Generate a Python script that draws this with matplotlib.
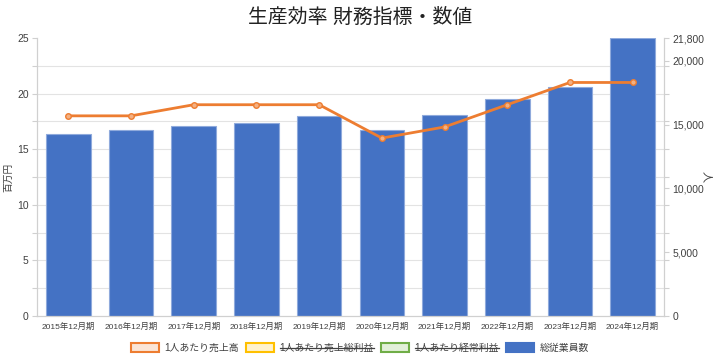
import numpy as np
import matplotlib
matplotlib.use("Agg")
import matplotlib.pyplot as plt
from matplotlib.patches import Patch
from matplotlib.lines import Line2D
from matplotlib.ticker import FuncFormatter

plt.rcParams['font.family'] = ['Liberation Sans', 'Noto Sans CJK JP', 'DejaVu Sans']

categories = ['2015年12月期', '2016年12月期', '2017年12月期', '2018年12月期', '2019年12月期',
              '2020年12月期', '2021年12月期', '2022年12月期', '2023年12月期', '2024年12月期']
sales_per_person = [18.0, 18.0, 19.0, 19.0, 19.0, 16.0, 17.0, 19.0, 21.0, 21.0]  # 百万円
employees = [14270, 14560, 14920, 15110, 15680, 14590, 15740, 16980, 17940, 21800]  # 人

left_max = 25
right_max = 21800
left_ticks = [0, 5, 10, 15, 20, 25]
left_minor = list(np.arange(0, 25.01, 2.5))
right_ticks = [0, 5000, 10000, 15000, 20000, 21800]

title = '生産効率 財務指標・数値'
legend_labels = ['1人あたり売上高', '1人あたり売上総利益', '1人あたり経常利益', '総従業員数']

txt = '#404040'
grid_c = '#E3E3E3'

fig = plt.figure(figsize=(7.2, 3.6), dpi=100)
ax = fig.add_axes([37/720, 1-316/360, (664-37)/720, (316-38)/360])
ax2 = ax.twinx()

x = np.arange(len(categories))
ax2.bar(x, employees, width=0.71, color='#4472C4', edgecolor='#8FAADC', linewidth=0.8, zorder=2)
ax2.set_ylim(0, right_max)
ax.set_ylim(0, left_max)
ax.set_xlim(-0.5, len(categories) - 0.5)

# grid on the lower (bar) axes at left-scale positions
ax2.set_yticks([v * right_max / left_max for v in left_minor], minor=True)
ax2.yaxis.grid(True, which='minor', color=grid_c, linewidth=0.8)
ax2.set_xticks(np.arange(-0.5, len(categories)), minor=True)
ax2.xaxis.grid(True, which='minor', color=grid_c, linewidth=0.8)
ax2.set_axisbelow(True)

ax.set_zorder(ax2.get_zorder() + 1)
ax.patch.set_visible(False)

ax.plot(x, sales_per_person, color='#ED7D31', linewidth=2, marker='o', markersize=4,
        markerfacecolor='#F4B183', markeredgecolor='#ED7D31', markeredgewidth=1, zorder=5)

ax.set_xticks(x)
ax.set_xticklabels(categories, fontsize=6.0, color=txt)
ax.tick_params(axis='x', which='both', length=0, pad=5)

ax.set_yticks(left_ticks)
ax.set_yticks(left_minor, minor=True)
ax.tick_params(axis='y', which='both', length=3.5, width=0.8, color='#D0D0D0', labelsize=7.5,
               labelcolor=txt, pad=2.5)

ax2.set_yticks(right_ticks)
ax2.yaxis.set_major_formatter(FuncFormatter(lambda v, p: f'{int(v):,}'))
ax2.tick_params(axis='y', which='both', length=3.5, width=0.8, color='#D0D0D0', labelsize=7.5,
                labelcolor=txt, pad=2.5)

for a in (ax, ax2):
    a.spines['top'].set_visible(False)
    for s in ['left', 'right', 'bottom']:
        a.spines[s].set_color('#D0D0D0')
        a.spines[s].set_linewidth(0.8)

ax.set_ylabel('百万円', fontsize=7, color=txt)
ax.yaxis.set_label_coords((13 - 37) / 627, 0.5)
ax2.set_ylabel('人', fontsize=8, color=txt, rotation=270, va='center')
ax2.yaxis.set_label_coords((706 - 37) / 627, 0.5)

fig.text(0.5, 1-17/360, title, ha='center', va='center', fontsize=14.3, color='#222222')

handles = [
    Patch(facecolor='#FBE5D6', edgecolor='#ED7D31', linewidth=1.5),
    Patch(facecolor='#FFF2CC', edgecolor='#FFC000', linewidth=1.5),
    Patch(facecolor='#E2F0D9', edgecolor='#70AD47', linewidth=1.5),
    Patch(facecolor='#4472C4', edgecolor='#4472C4', linewidth=1.5),
]
leg = fig.legend(handles, legend_labels, loc='center', bbox_to_anchor=(0.5, 1-348/360),
                 ncol=4, frameon=False, fontsize=7.1, handlelength=2.8, handleheight=1.0,
                 columnspacing=0.7, handletextpad=0.6, labelcolor=txt)

fig.canvas.draw()
inv = fig.transFigure.inverted()
r = fig.canvas.get_renderer()
for t in leg.get_texts()[1:3]:
    bb = t.get_window_extent(r)
    (x0, y0), (x1, y1) = inv.transform([(bb.x0, bb.y0), (bb.x1, bb.y1)])
    ym = (y0 + y1) / 2
    fig.add_artist(Line2D([x0, x1], [ym, ym], transform=fig.transFigure, color=txt, linewidth=0.9))

fig.savefig('out.png', dpi=100)
